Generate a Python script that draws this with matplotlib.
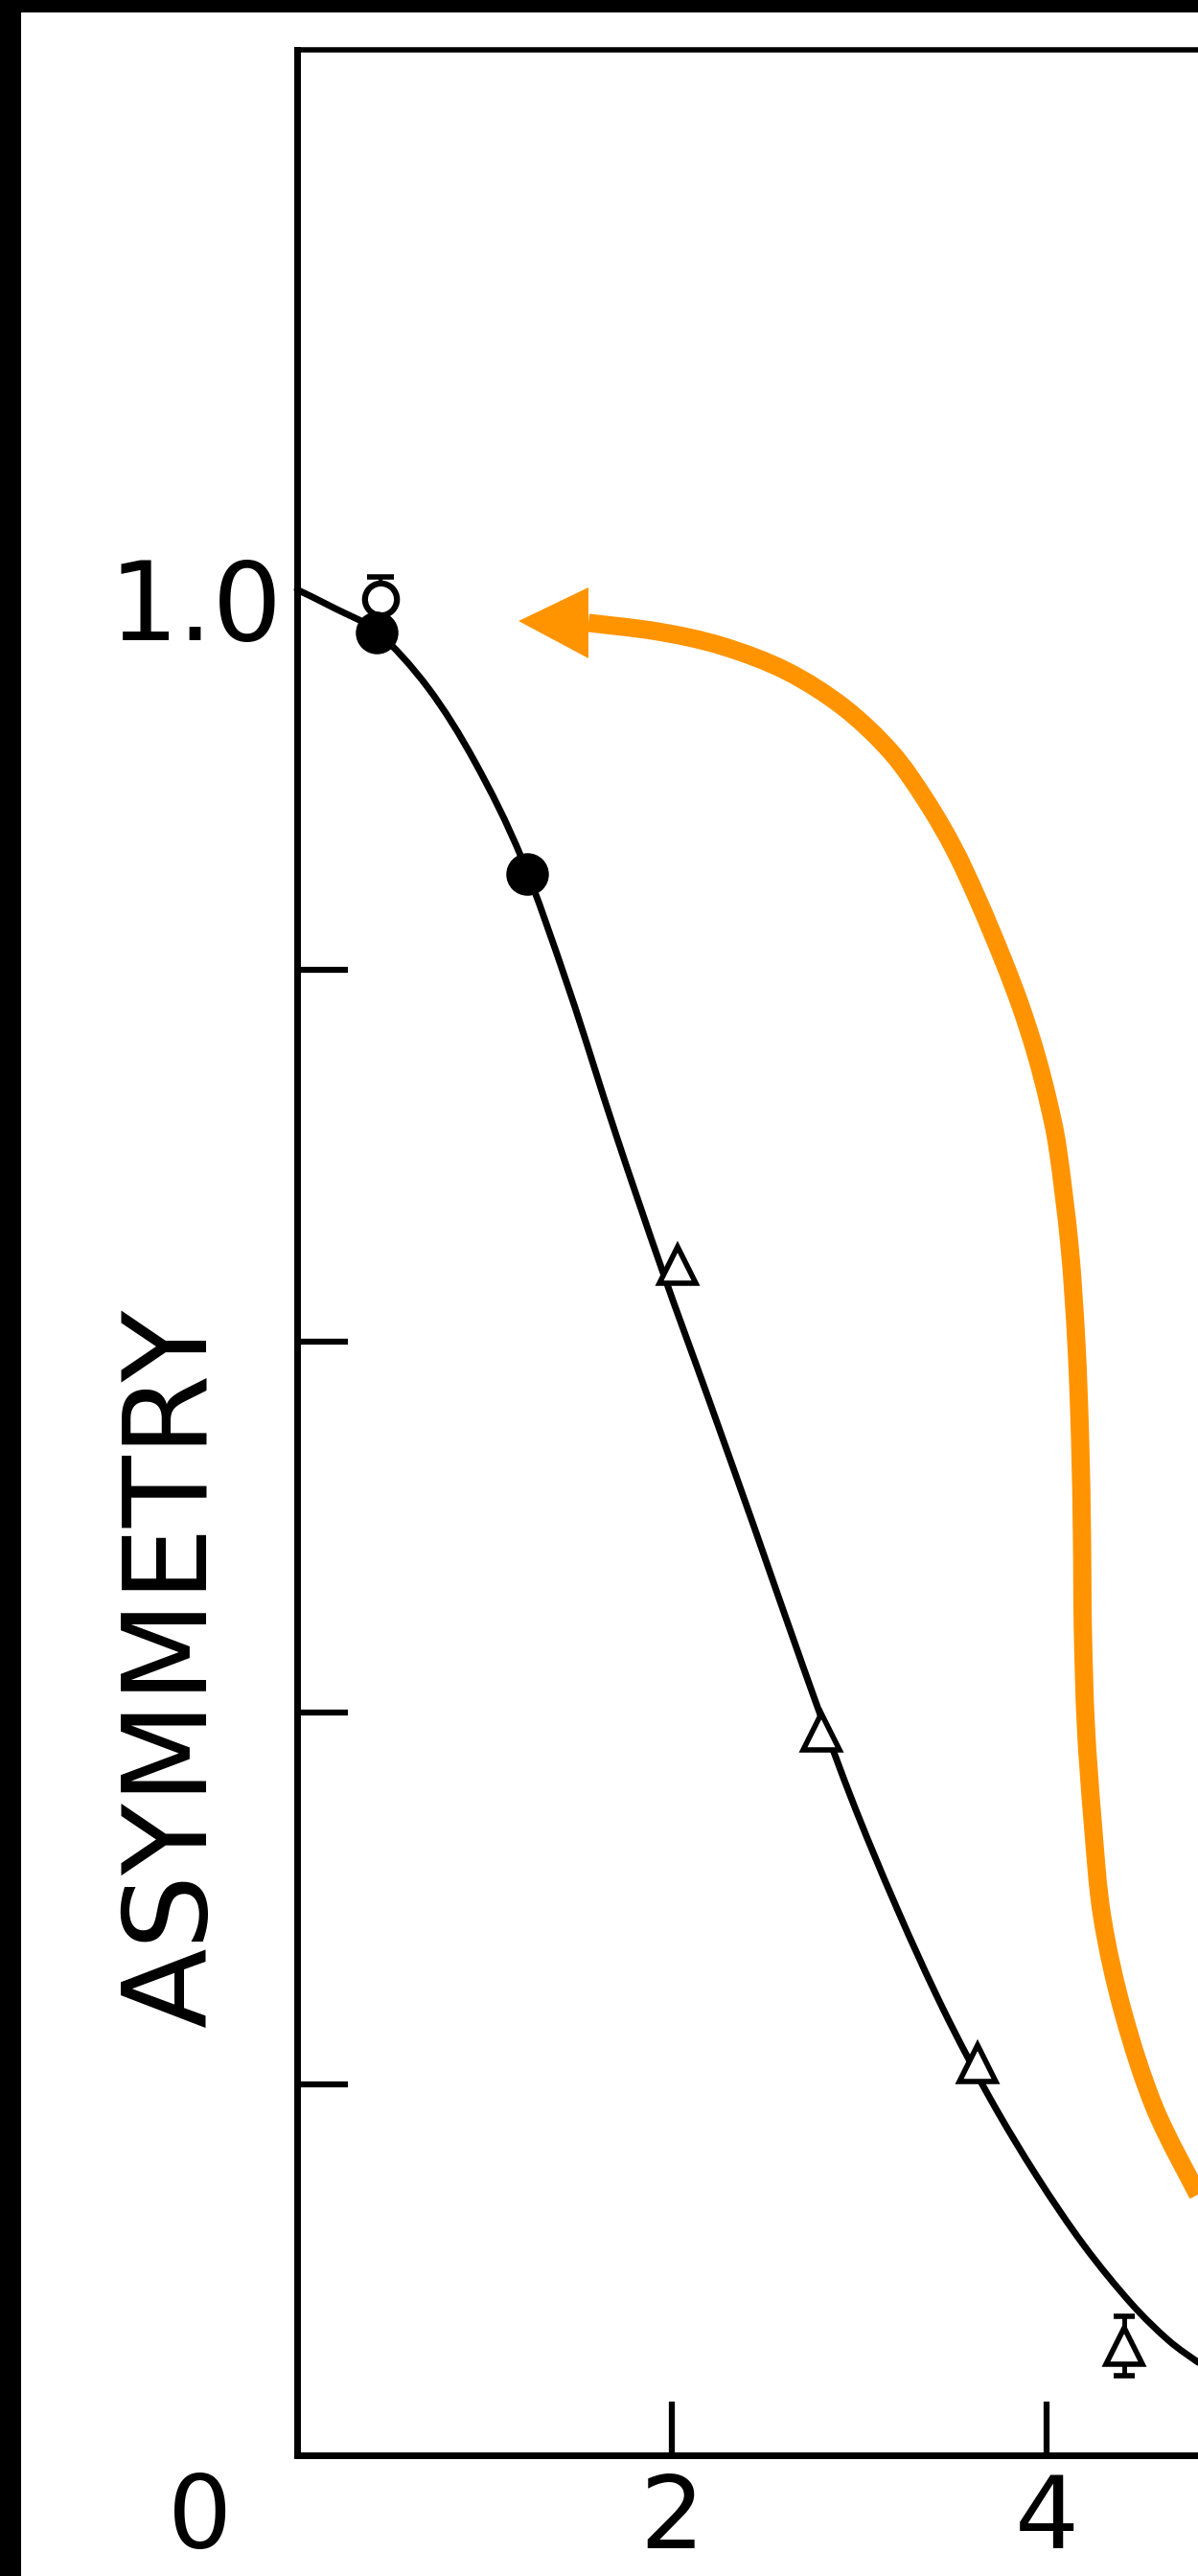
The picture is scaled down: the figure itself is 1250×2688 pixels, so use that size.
import matplotlib
matplotlib.use("Agg")
import numpy as np
import matplotlib.pyplot as plt
from matplotlib.patches import Rectangle, PathPatch
from matplotlib.path import Path

plt.rcParams['font.family'] = ['DejaVu Sans']

# ---------------- data ----------------
curve_x = [0.00, 0.20, 0.43, 0.70, 0.95, 1.20, 1.45, 1.70, 1.95, 2.20, 2.45,
           2.70, 2.95, 3.20, 3.45, 3.70, 3.95, 4.20, 4.45, 4.65, 4.81]
curve_y = [1.005, 0.995, 0.982, 0.952, 0.912, 0.860, 0.790, 0.712, 0.638, 0.568, 0.497,
           0.425, 0.356, 0.295, 0.240, 0.192, 0.150, 0.113, 0.082, 0.062, 0.050]

open_circle_x = [0.445]
open_circle_y = [1.000]
open_circle_err_up = [0.012]

filled_x = [0.425, 1.228]
filled_y = [0.982, 0.852]

triangle_x = [2.031, 2.798, 3.632, 4.414]
triangle_y = [0.641, 0.390, 0.211, 0.059]
triangle_err = [0.0, 0.0, 0.0, 0.016]

xtick_vals = [2, 4]
xtick_labels = ['2', '4']
origin_label = '0'
origin_label_x = -0.52
ytick_vals = [0.2, 0.4, 0.6, 0.8, 1.0]
ytick_labels = ['', '', '', '', '1.0']
y_label = 'ASYMMETRY'

# orange annotation arrow (data coordinates), from its tail to the start of the head
arrow_x = [4.808, 4.578, 4.409, 4.297, 4.246, 4.210, 4.194, 4.189, 4.179, 4.159,
           4.123, 4.061, 4.010, 3.944, 3.862, 3.765, 3.632, 3.504, 3.355, 3.171,
           2.916, 2.609, 2.266, 1.928, 1.555]
arrow_y = [0.1404, 0.1869, 0.2385, 0.2901, 0.3418, 0.3934, 0.4450, 0.4966, 0.5483, 0.5999,
           0.6515, 0.7031, 0.7290, 0.7548, 0.7806, 0.8064, 0.8384, 0.8658, 0.8916, 0.9174,
           0.9417, 0.9613, 0.9747, 0.9824, 0.9871]
arrow_head_x = [1.555, 1.182, 1.555]
arrow_head_y = [1.0062, 0.9881, 0.9680]

ORANGE = '#FF9400'


def smooth_path(xs, ys):
    """Cubic Bezier path (Catmull-Rom tangents) passing through the given points."""
    pts = [np.array([x, y], dtype=float) for x, y in zip(xs, ys)]
    verts = [pts[0]]
    codes = [Path.MOVETO]
    n = len(pts)
    for i in range(n - 1):
        p0 = pts[i - 1] if i > 0 else pts[i]
        p1 = pts[i]
        p2 = pts[i + 1]
        p3 = pts[i + 2] if i + 2 < n else pts[i + 1]
        verts += [p1 + (p2 - p0) / 6.0, p2 - (p3 - p1) / 6.0, p2]
        codes += [Path.CURVE4] * 3
    return Path(verts, codes)


# ---------------- figure ----------------
fig = plt.figure(figsize=(12.5, 26.88), dpi=100)
fig.patch.set_facecolor('white')

ax_left = 310 / 1250
ax_bottom = (2688 - 2562) / 2688
ax_height = (2562 - 52) / 2688
ax_width = 1.10 - ax_left
ax = fig.add_axes([ax_left, ax_bottom, ax_width, ax_height])
ax.set_xlim(0, 5.448)
ax.set_ylim(0, 1.2958)

for s in ['left', 'bottom']:
    ax.spines[s].set_linewidth(5.0)
ax.spines['top'].set_linewidth(4.0)
ax.spines['right'].set_visible(False)

# fitted curve
ax.add_patch(PathPatch(smooth_path(curve_x, curve_y), facecolor='none', edgecolor='black',
                       lw=5, capstyle='round', zorder=3, clip_on=False))

# open circle with error bar cap
ax.errorbar(open_circle_x, open_circle_y, yerr=[[0], open_circle_err_up], fmt='none',
            ecolor='black', elinewidth=3, capsize=10, capthick=4, zorder=3)
ax.plot(open_circle_x, open_circle_y, 'o', ms=24, mfc='white', mec='black', mew=4.5, zorder=4)

# filled markers
ax.plot(filled_x, filled_y, 'o', ms=31, color='black', zorder=5)

# triangles with error bar
ax.errorbar(triangle_x, triangle_y, yerr=triangle_err, fmt='none', ecolor='black',
            elinewidth=3.5, capsize=8, capthick=4, zorder=4)
ax.plot(triangle_x, triangle_y, '^', ms=27, mfc='white', mec='black', mew=4, zorder=5)

# orange arrow
ax.add_patch(PathPatch(smooth_path(arrow_x, arrow_y), facecolor='none', edgecolor=ORANGE,
                       lw=13.7, capstyle='butt', joinstyle='round', zorder=6, clip_on=False))
ax.fill(arrow_head_x, arrow_head_y, color=ORANGE, lw=0, zorder=6, clip_on=False)

# ticks
ax.set_xticks(xtick_vals)
ax.set_xticklabels(xtick_labels)
ax.set_yticks(ytick_vals)
ax.set_yticklabels(ytick_labels)
ax.tick_params(axis='x', direction='in', length=40, width=4.5, pad=12, labelsize=76, top=False)
ax.tick_params(axis='y', direction='in', length=38, width=4.5, pad=11, labelsize=82, right=False)
ax.yaxis.get_major_ticks()[-1].tick1line.set_visible(False)

ax.annotate(origin_label, xy=(origin_label_x, 0), xycoords=('data', 'axes fraction'),
            xytext=(0, -12), textcoords='offset points', ha='center', va='top',
            fontsize=76, annotation_clip=False)

ax.set_ylabel(y_label, fontsize=88, va='center', ha='center')
ax.yaxis.set_label_coords((182 - 310) / (ax_width * 1250), (2562 - 1741) / 2510)

# scan border
fig.add_artist(Rectangle((0, 0), 22 / 1250, 1, transform=fig.transFigure,
                         facecolor='black', edgecolor='none', zorder=10))
fig.add_artist(Rectangle((0, 1 - 13 / 2688), 1, 13 / 2688, transform=fig.transFigure,
                         facecolor='black', edgecolor='none', zorder=10))

fig.savefig('out.png', dpi=100, facecolor='white')
